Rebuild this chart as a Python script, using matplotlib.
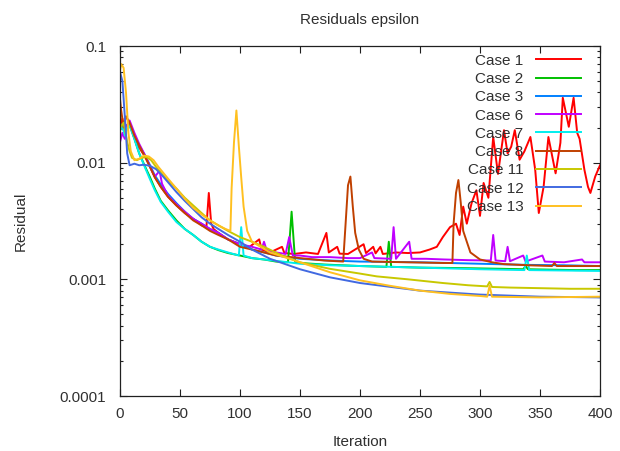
import matplotlib
matplotlib.use("Agg")
import matplotlib.pyplot as plt

plt.rcParams['font.family'] = ['Liberation Sans', 'DejaVu Sans']

# iterations / residual values, one pair of lists per case
it_1 = [0, 2, 4, 6, 8, 10, 12, 15, 18, 21, 25, 29, 34, 40, 47, 54, 61, 68, 72, 74, 76, 78, 82, 90,
        100, 108, 116, 118, 125, 135, 137, 145, 155, 165, 172, 174, 181, 183, 190, 203, 205, 211,
        213, 217, 219, 230, 240, 250, 258, 264, 269, 275, 280, 283, 286, 289, 293, 297, 300, 303,
        307, 311, 315, 320, 323, 326, 329, 333, 337, 342, 346, 349, 353, 357, 363, 367, 369, 374,
        378, 381, 383, 387, 390, 392, 396, 400]
res_1 = [0.020, 0.024, 0.018, 0.021, 0.022, 0.019, 0.0166, 0.014, 0.0125, 0.0112, 0.0092, 0.0075,
         0.0062, 0.0051, 0.0043, 0.0037, 0.0033, 0.0029, 0.0028, 0.0055, 0.0030, 0.0027, 0.0025,
         0.0022, 0.0020, 0.0019, 0.0022, 0.0018, 0.0017, 0.0019, 0.00168, 0.00165, 0.0017, 0.00165,
         0.0025, 0.0017, 0.0019, 0.00166, 0.00165, 0.0020, 0.00168, 0.0019, 0.00167, 0.0019,
         0.00165, 0.0017, 0.00168, 0.0017, 0.0018, 0.0019, 0.0023, 0.0028, 0.0030, 0.0024, 0.0042,
         0.0030, 0.0045, 0.0058, 0.0035, 0.0067, 0.0050, 0.0166, 0.0080, 0.019, 0.012, 0.0137,
         0.019, 0.0106, 0.0125, 0.0166, 0.0087, 0.0037, 0.0062, 0.0166, 0.0081, 0.0148, 0.036,
         0.0203, 0.036, 0.018, 0.016, 0.0087, 0.0062, 0.0055, 0.0076, 0.0095]

it_2 = [0, 3, 6, 8, 12, 16, 21, 25, 29, 34, 40, 47, 54, 61, 68, 75, 82, 90, 100, 110, 120, 130, 140,
        143, 146, 150, 170, 200, 222, 224, 226, 250, 280, 300, 320, 336, 338, 340, 360, 380, 400]
res_2 = [0.019, 0.021, 0.020, 0.021, 0.016, 0.012, 0.0092, 0.0075, 0.006, 0.0047, 0.0039, 0.0032,
         0.0027, 0.0024, 0.0021, 0.0019, 0.00178, 0.00168, 0.0016, 0.00152, 0.00148, 0.00142,
         0.0014, 0.0038, 0.0014, 0.00138, 0.00134, 0.0013, 0.00128, 0.0021, 0.00128, 0.00126,
         0.00125, 0.00124, 0.00123, 0.00122, 0.0013, 0.00122, 0.00121, 0.0012, 0.0012]

it_3 = [0, 3, 6, 8, 12, 16, 21, 25, 29, 34, 40, 47, 54, 61, 68, 75, 82, 90, 100, 110, 120, 130, 150,
        175, 200, 250, 300, 340, 370, 400]
res_3 = [0.022, 0.019, 0.021, 0.022, 0.017, 0.014, 0.0115, 0.0095, 0.0078, 0.0065, 0.0054, 0.0045,
         0.0038, 0.0033, 0.003, 0.0027, 0.0025, 0.0022, 0.002, 0.0018, 0.0017, 0.0016, 0.0015,
         0.00145, 0.00142, 0.0014, 0.00136, 0.00133, 0.00132, 0.0013]

it_6 = [0, 2, 4, 6, 8, 12, 16, 21, 25, 29, 33, 35, 40, 47, 54, 61, 68, 75, 82, 90, 100, 110, 118,
        120, 122, 130, 138, 141, 144, 150, 160, 175, 190, 200, 210, 212, 226, 228, 230, 241, 243,
        255, 270, 290, 309, 311, 313, 321, 323, 325, 336, 338, 352, 354, 370, 385, 387, 400]
res_6 = [0.015, 0.018, 0.016, 0.021, 0.023, 0.018, 0.0145, 0.0115, 0.0093, 0.0076, 0.0085, 0.0066,
         0.0052, 0.0044, 0.0038, 0.0033, 0.003, 0.0027, 0.0025, 0.0022, 0.002, 0.0019, 0.0018,
         0.0021, 0.0018, 0.0017, 0.00165, 0.0023, 0.0016, 0.0016, 0.00155, 0.00155, 0.00152,
         0.00152, 0.0017, 0.00152, 0.0015, 0.0028, 0.0015, 0.0021, 0.0015, 0.0015, 0.00148,
         0.00146, 0.00145, 0.0024, 0.00145, 0.00143, 0.0019, 0.00143, 0.0016, 0.00142, 0.0016,
         0.00142, 0.0014, 0.00148, 0.0014, 0.0014]

it_7 = [0, 2, 4, 6, 8, 12, 16, 21, 25, 29, 34, 40, 47, 54, 61, 68, 75, 82, 90, 99, 101, 103, 110,
        120, 135, 150, 175, 200, 250, 300, 337, 339, 341, 370, 400]
res_7 = [0.019, 0.021, 0.017, 0.020, 0.021, 0.016, 0.012, 0.009, 0.0072, 0.0058, 0.0046, 0.0038,
         0.0031, 0.0027, 0.0024, 0.0021, 0.0019, 0.0018, 0.0017, 0.0016, 0.0028, 0.0016, 0.00152,
         0.00148, 0.00142, 0.00136, 0.00132, 0.0013, 0.00126, 0.00122, 0.0012, 0.0016, 0.0012,
         0.00119, 0.00118]

it_8 = [0, 1, 3, 5, 8, 12, 16, 21, 25, 29, 34, 40, 47, 54, 61, 68, 75, 82, 90, 100, 110, 120, 130,
        150, 170, 186, 188, 190, 192, 194, 196, 199, 203, 210, 240, 270, 277, 278, 280, 282, 284,
        286, 289, 292, 300, 310, 320, 340, 360, 362, 364, 400]
res_8 = [0.035, 0.028, 0.020, 0.025, 0.022, 0.017, 0.014, 0.0112, 0.0092, 0.0075, 0.0062, 0.0051,
         0.0043, 0.0037, 0.0032, 0.0029, 0.0026, 0.0024, 0.0022, 0.0019, 0.0018, 0.0017, 0.0016,
         0.00152, 0.00145, 0.00142, 0.003, 0.0064, 0.0076, 0.0042, 0.0025, 0.0018, 0.0015, 0.00142,
         0.0014, 0.00138, 0.00138, 0.003, 0.0055, 0.0071, 0.0045, 0.0026, 0.0021, 0.0017, 0.00148,
         0.0014, 0.00135, 0.00132, 0.0013, 0.00138, 0.0013, 0.0013]

it_11 = [0, 3, 6, 8, 10, 14, 18, 22, 26, 30, 35, 40, 47, 54, 61, 68, 75, 82, 90, 100, 110, 120, 135,
         150, 175, 200, 214, 240, 269, 290, 306, 308, 310, 325, 350, 375, 400]
res_11 = [0.020, 0.022, 0.015, 0.0125, 0.011, 0.0105, 0.011, 0.0112, 0.0105, 0.0092, 0.008, 0.007,
          0.006, 0.005, 0.0043, 0.0037, 0.0032, 0.0029, 0.0026, 0.0023, 0.0021, 0.0019, 0.0016,
          0.0014, 0.00123, 0.00112, 0.00106, 0.001, 0.00093, 0.00089, 0.00087, 0.00095, 0.00086,
          0.00085, 0.00084, 0.00083, 0.00083]

it_12 = [0, 2, 4, 6, 8, 12, 16, 20, 25, 30, 35, 40, 47, 54, 61, 68, 75, 82, 90, 100, 110, 125, 150,
         175, 200, 250, 300, 350, 400]
res_12 = [0.060, 0.050, 0.025, 0.012, 0.0095, 0.0098, 0.0095, 0.0096, 0.0094, 0.0088, 0.0078,
          0.0068, 0.0056, 0.0047, 0.004, 0.0034, 0.003, 0.0027, 0.0024, 0.0021, 0.0018, 0.0015,
          0.00122, 0.00104, 0.00093, 0.0008, 0.00074, 0.00071, 0.0007]

it_13 = [0, 1, 3, 5, 7, 9, 12, 16, 20, 24, 28, 32, 36, 40, 47, 54, 61, 68, 75, 82, 88, 92, 93, 95,
         97, 99, 101, 103, 106, 110, 125, 150, 175, 200, 225, 250, 275, 300, 306, 308, 310, 350, 400]
res_13 = [0.062, 0.070, 0.065, 0.040, 0.018, 0.0125, 0.0105, 0.0108, 0.0115, 0.0113, 0.0105,
          0.0092, 0.0082, 0.0073, 0.006, 0.0049, 0.0041, 0.0036, 0.0032, 0.0029, 0.0027, 0.0026,
          0.006, 0.015, 0.028, 0.014, 0.0075, 0.0042, 0.0026, 0.0021, 0.0017, 0.0014, 0.00115,
          0.00098, 0.00088, 0.0008, 0.00075, 0.00072, 0.00071, 0.00088, 0.00071, 0.0007, 0.00071]

labels = ['Case 1', 'Case 2', 'Case 3', 'Case 6', 'Case 7', 'Case 8', 'Case 11', 'Case 12', 'Case 13']
colors = ['#ff0000', '#00c000', '#0080ff', '#c000ff', '#00eeee', '#c04000', '#c8c800', '#4169e1', '#ffc020']
x_data = [it_1, it_2, it_3, it_6, it_7, it_8, it_11, it_12, it_13]
y_data = [res_1, res_2, res_3, res_6, res_7, res_8, res_11, res_12, res_13]

text_col = '#303030'
fs = 11

fig = plt.figure(figsize=(6.2, 4.51), dpi=100)
ax = fig.add_axes([120/620, 55/451, 480/620, 350/451])

for xs, ys, c, lab in zip(x_data, y_data, colors, labels):
    ax.plot(xs, ys, color=c, lw=1.4, label=lab)

ax.set_yscale('log')
ax.set_xlim(0, 400)
ax.set_ylim(1e-4, 1e-1)
ax.set_xticks(range(0, 401, 50))
ax.set_yticks([1e-4, 1e-3, 1e-2, 1e-1], ['0.0001', '0.001', '0.01', '0.1'])
ax.tick_params(which='both', direction='in', top=True, right=True, colors='#202020',
               labelcolor=text_col, labelsize=fs)
ax.tick_params(which='major', length=5, width=0.8)
ax.tick_params(which='minor', length=2.5, width=0.8)
ax.tick_params(axis='x', pad=8)
ax.tick_params(axis='y', pad=10)
for s in ax.spines.values():
    s.set_linewidth(0.9)
    s.set_color('#202020')

ax.set_title('Residuals epsilon', fontsize=fs, color=text_col, pad=16)
ax.set_xlabel('Iteration', fontsize=fs, color=text_col, labelpad=10)
ax.set_ylabel('Residual', fontsize=fs, color=text_col, labelpad=23)

leg = ax.legend(loc='upper right', bbox_to_anchor=(0.96, 0.978), frameon=False, markerfirst=False,
                fontsize=fs, handlelength=2.9, handletextpad=0.85, labelspacing=0.28,
                borderpad=0, borderaxespad=0)
for t in leg.get_texts():
    t.set_color(text_col)

fig.savefig('out.png', dpi=100)
